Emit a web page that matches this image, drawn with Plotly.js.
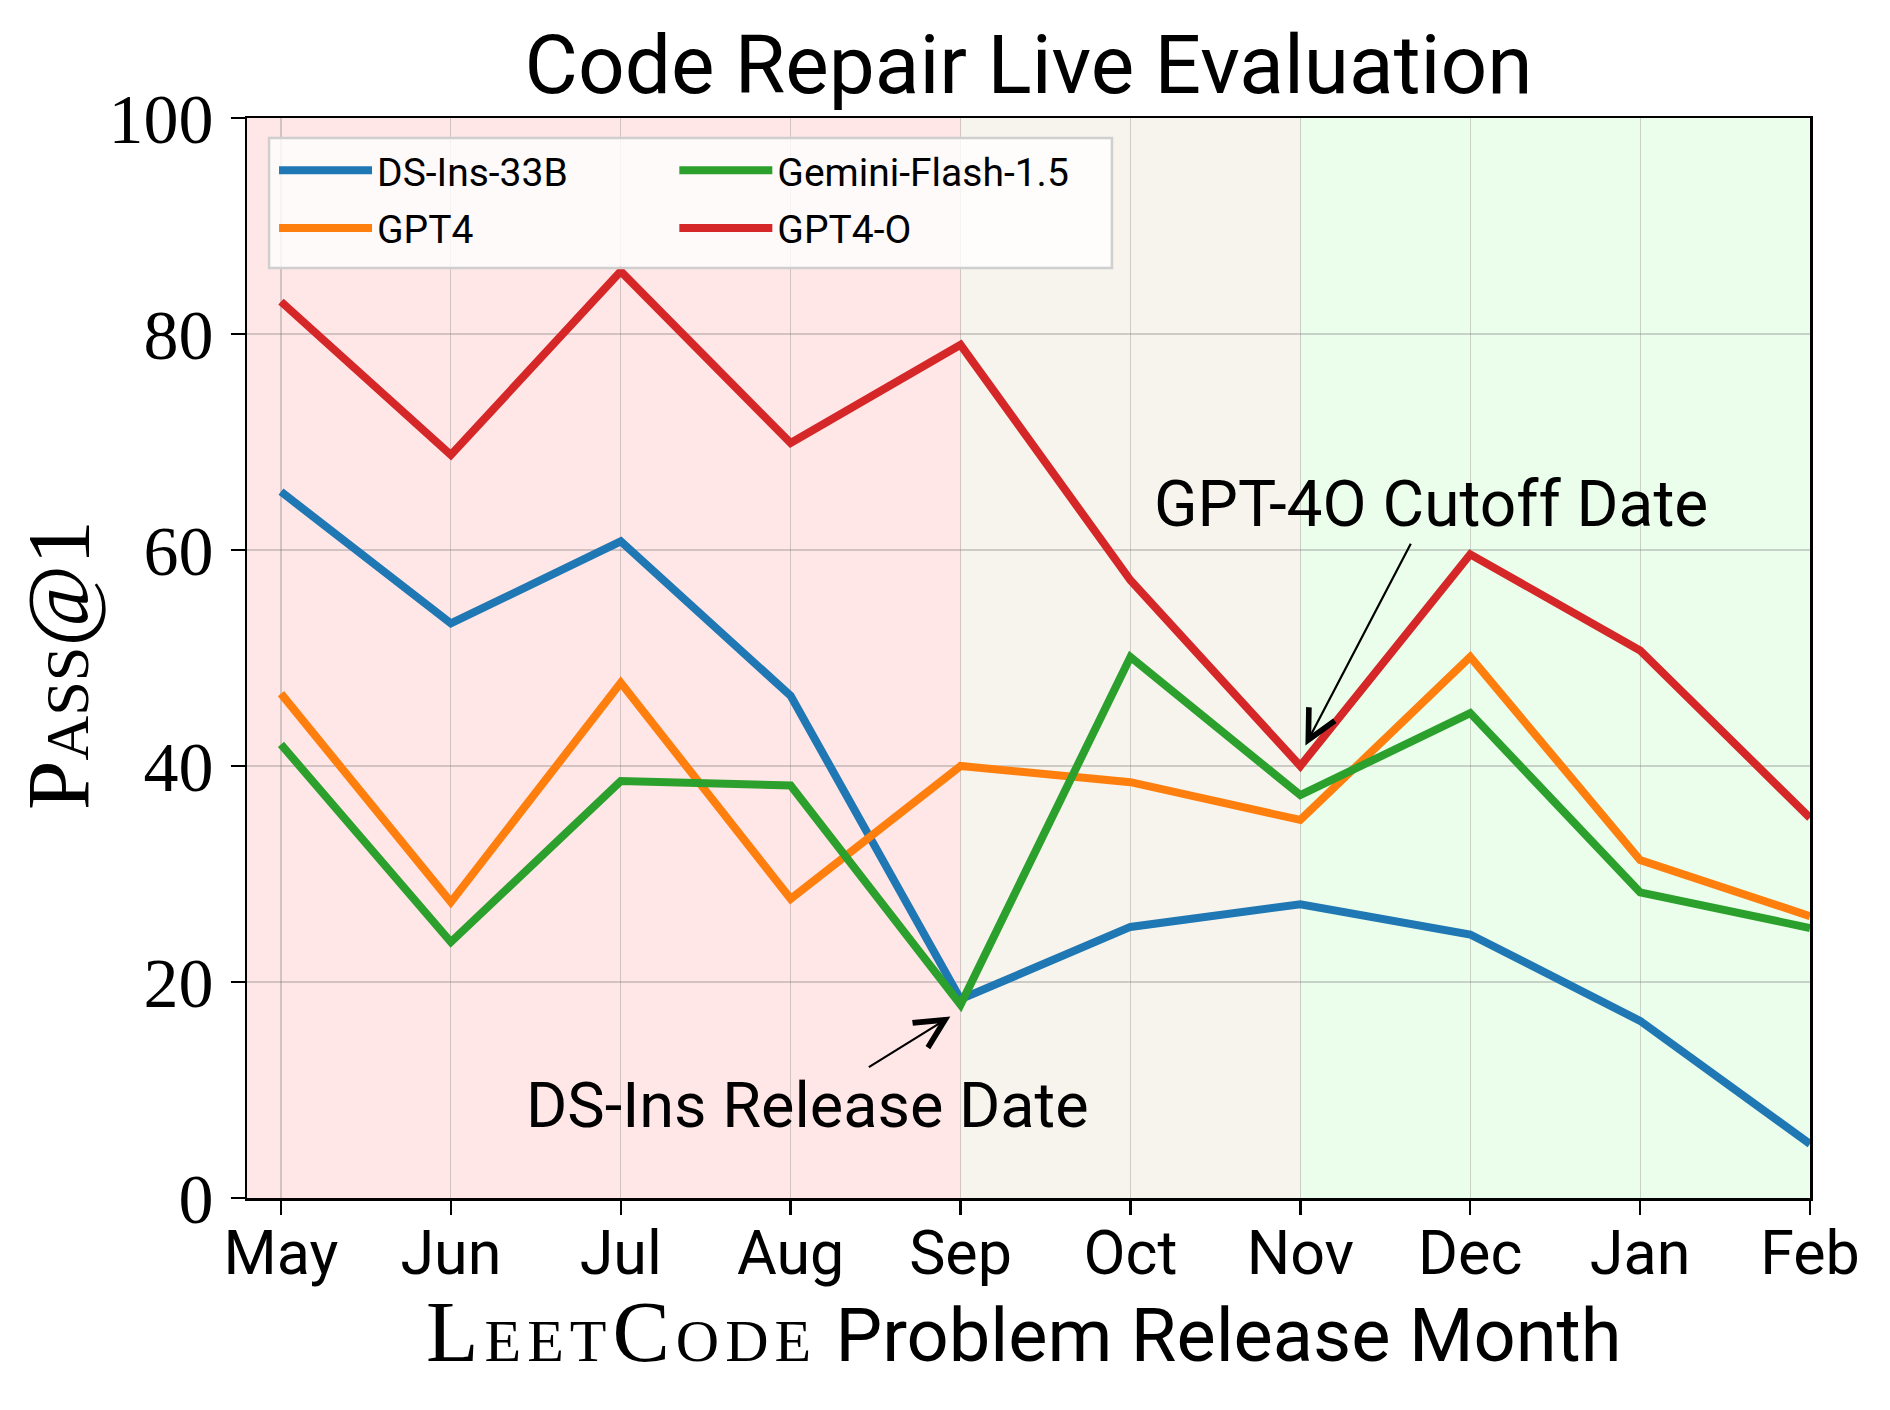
<!DOCTYPE html>
<html>
<head>
<meta charset="utf-8">
<script src="https://cdn.plot.ly/plotly-3.0.1.min.js"></script>
<style>
  body { margin: 0; background: #ffffff; }
  #chart { width: 1890px; height: 1410px; }
</style>
</head>
<body>
<div id="chart"></div>
<script>
// Dữ liệu (Pass@1 theo tháng phát hành bài LeetCode)
var months = ['May', 'Jun', 'Jul', 'Aug', 'Sep', 'Oct', 'Nov', 'Dec', 'Jan', 'Feb'];
var ds_ins_33b   = [65.4, 53.2, 60.8, 46.5, 18.4, 25.1, 27.2, 24.4, 16.4, 5.0];
var gpt4         = [46.7, 27.4, 47.7, 27.7, 40.0, 38.5, 35.0, 50.1, 31.3, 26.1];
var gemini_flash = [42.0, 23.7, 38.6, 38.2, 17.9, 50.1, 37.3, 44.9, 28.3, 25.0];
var gpt4_o       = [83.0, 68.8, 85.8, 69.9, 79.0, 57.2, 40.0, 59.6, 50.7, 35.2];
var yTicks = [0, 20, 40, 60, 80, 100];

// Các giai đoạn tô nền (tháng bắt đầu / kết thúc)
var period_start = ['May', 'Sep', 'Nov'];
var period_end   = ['Feb', 'Nov', 'Feb'];
var period_color = ['#ffe7e7', '#f7f4ed', '#ebfeeb'];

var SANS = 'Roboto, "Open Sans", sans-serif';
var SERIF = '"Liberation Serif", "DejaVu Serif", serif';
var SERIF_CSS = SERIF.replace(/"/g, "'");

// Hàm tạo 1 đường dữ liệu
function fn_Line(name, values, color, legendName, rank) {
    return {
        x: months,
        y: values,
        type: 'scatter',
        mode: 'lines',
        name: name,
        line: { color: color, width: 8 },
        legend: legendName,
        legendrank: rank,
        legendgroup: name,
        hoverinfo: 'skip'
    };
}

var traces = [
    fn_Line('DS-Ins-33B', ds_ins_33b, '#1f77b4', 'legend', 1),
    fn_Line('GPT4', gpt4, '#ff7f0e', 'legend', 2),
    fn_Line('Gemini-Flash-1.5', gemini_flash, '#2ca02c', 'legend2', 1),
    fn_Line('GPT4-O', gpt4_o, '#d62728', 'legend2', 2)
];

// Nền tô màu theo giai đoạn
var shapes = [];
for (var i = 0; i < period_start.length; i++) {
    var a = months.indexOf(period_start[i]);
    var b = months.indexOf(period_end[i]);
    shapes.push({
        type: 'rect', layer: 'below',
        xref: 'x', yref: 'paper',
        x0: (a === 0 ? -0.2 : a), x1: b, y0: 0, y1: 1,
        fillcolor: period_color[i], line: { width: 0 }
    });
}
// Khung chú thích (2 cột)
shapes.push({
    type: 'rect', layer: 'above',
    xref: 'paper', yref: 'paper',
    x0: 0.0141, x1: 0.5534, y0: 0.861, y1: 0.9815,
    fillcolor: 'rgba(255,255,255,0.8)',
    line: { color: '#cfcfcf', width: 2.5 }
});

var legendBase = {
    bgcolor: 'rgba(0,0,0,0)',
    borderwidth: 0,
    font: { family: SANS, size: 39, color: '#000' },
    xanchor: 'left', yanchor: 'top',
    traceorder: 'grouped',
    tracegroupgap: 4,
    itemwidth: 93
};

var layout = {
    width: 1890,
    height: 1410,
    margin: { l: 247, r: 80, t: 118, b: 212 },
    paper_bgcolor: '#ffffff',
    plot_bgcolor: 'rgba(0,0,0,0)',
    font: { family: SANS, color: '#000' },
    showlegend: true,
    title: {
        text: 'Code Repair Live Evaluation',
        font: { family: SANS, size: 82, color: '#000' },
        xref: 'paper', x: 0.5, xanchor: 'center',
        yref: 'container', y: 1 - 64 / 1410, yanchor: 'middle'
    },
    xaxis: {
        type: 'category',
        categoryarray: months,
        range: [-0.2, months.length - 1],
        showgrid: true,
        gridcolor: 'rgba(110,110,110,0.3)',
        gridwidth: 1.2,
        ticks: 'outside', ticklen: 14, tickwidth: 2.5, tickcolor: '#000',
        ticklabelstandoff: -14,
        showline: true, linecolor: '#000', linewidth: 2.5, mirror: true,
        zeroline: false,
        tickfont: { family: SANS, size: 61, color: '#000' }
    },
    yaxis: {
        range: [0, 100],
        tickvals: yTicks,
        showgrid: true,
        gridcolor: 'rgba(110,110,110,0.3)',
        gridwidth: 1.2,
        ticks: 'outside', ticklen: 14, tickwidth: 2.5, tickcolor: '#000',
        ticklabelstandoff: 3,
        showline: true, linecolor: '#000', linewidth: 2.5, mirror: true,
        zeroline: false,
        tickfont: { family: SERIF, size: 70, color: '#000' }
    },
    legend: Object.assign({}, legendBase, { x: 0.0173, y: 0.981 }),
    legend2: Object.assign({}, legendBase, { x: 0.2734, y: 0.981 }),
    shapes: shapes,
    annotations: [
        // Tiêu đề trục x (chữ LeetCode dạng small-caps có chân)
        {
            text: '<span style="font-family:' + SERIF_CSS + ';font-variant:small-caps;font-size:86px;letter-spacing:6px">LeetCode</span> Problem Release Month',
            xref: 'paper', yref: 'paper', x: 0.497, y: -0.1245,
            xanchor: 'center', yanchor: 'middle',
            showarrow: false,
            font: { family: SANS, size: 74, color: '#000' }
        },
        // Tiêu đề trục y
        {
            text: 'Pass@1',
            xref: 'paper', yref: 'paper', x: -0.1209, y: 0.4935,
            xanchor: 'center', yanchor: 'middle',
            textangle: -90,
            showarrow: false,
            font: { family: SERIF, size: 89, color: '#000', variant: 'small-caps' }
        },
        {
            text: 'GPT-4O Cutoff Date',
            x: 6.03, y: 41.9, xref: 'x', yref: 'y',
            ax: 6.77, ay: 64.2, axref: 'x', ayref: 'y',
            showarrow: true, arrowhead: 5, arrowsize: 2.6, arrowwidth: 2.2,
            arrowcolor: '#000',
            font: { family: SANS, size: 64, color: '#000' }
        },
        {
            text: 'DS-Ins Release Date',
            x: 3.94, y: 16.8, xref: 'x', yref: 'y',
            ax: 3.10, ay: 8.6, axref: 'x', ayref: 'y',
            showarrow: true, arrowhead: 5, arrowsize: 2.6, arrowwidth: 2.2,
            arrowcolor: '#000',
            font: { family: SANS, size: 63, color: '#000' }
        }
    ]
};

Plotly.newPlot('chart', traces, layout, { displayModeBar: false, staticPlot: true });
</script>
</body>
</html>
